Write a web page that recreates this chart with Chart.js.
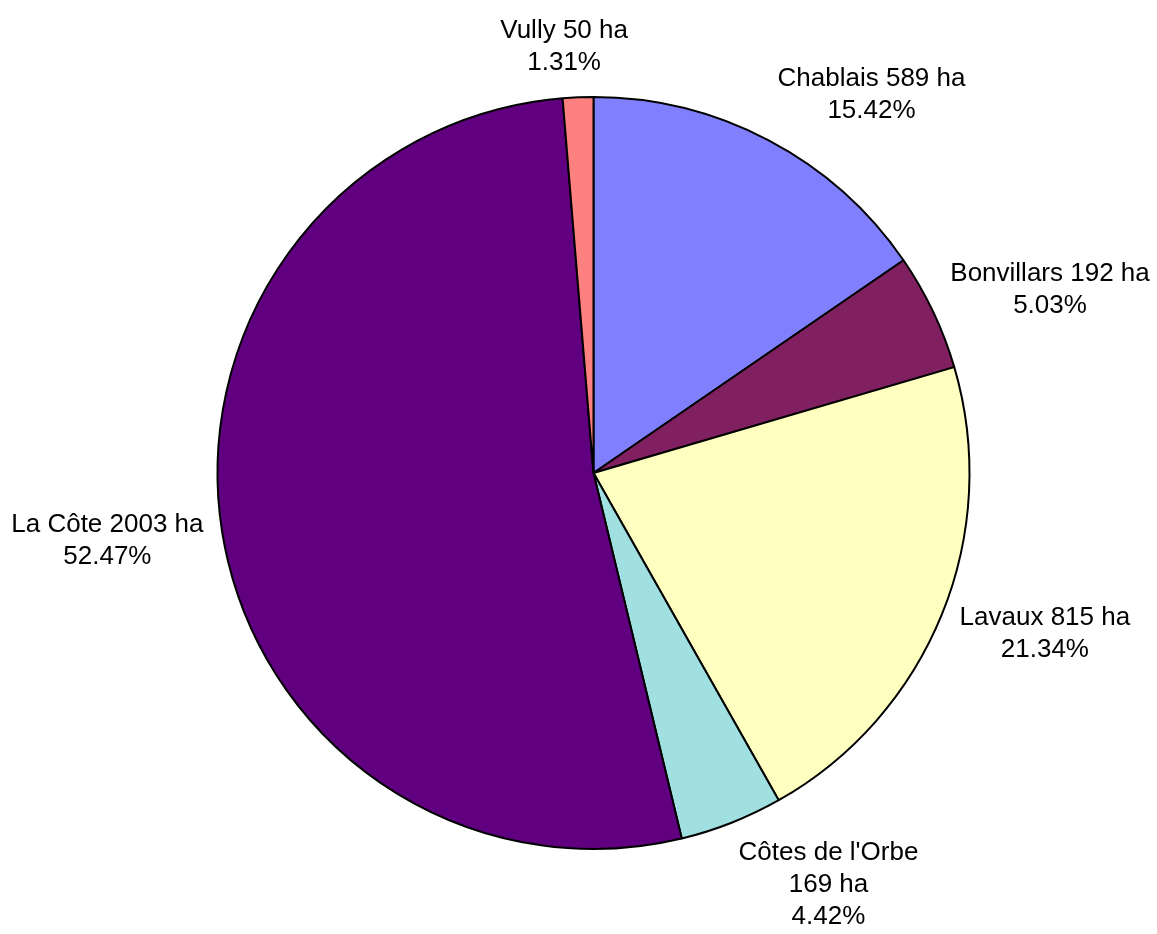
<!DOCTYPE html>
<html>
<head>
<meta charset="utf-8">
<script src="https://cdn.jsdelivr.net/npm/chart.js@4"></script>
<style>
  html, body { margin: 0; padding: 0; background: #fff; }
  canvas { display: block; }
</style>
</head>
<body>
<canvas id="c" width="1157" height="934" style="width:1157px;height:934px"></canvas>
<script>
// ---- data ----
const categories = ["Chablais", "Bonvillars", "Lavaux", "Côtes de l'Orbe", "La Côte", "Vully"];
const hectares   = [589, 192, 815, 169, 2003, 50];
const percentLabels = ["15.42%", "5.03%", "21.34%", "4.42%", "52.47%", "1.31%"];
const breakAfterName = [false, false, false, true, false, false];
const sliceColors = ["#8080ff", "#802060", "#ffffc0", "#a0e0e0", "#600080", "#ff8080"];

const labelLines = categories.map((name, i) => {
  const ha = hectares[i] + " ha";
  const first = breakAfterName[i] ? [name, ha] : [name + " " + ha];
  return first.concat([percentLabels[i]]);
});

const LINE_H = 32;
const FONT = '26px "Liberation Sans", Arial, sans-serif';

const outsideLabels = {
  id: 'outsideLabels',
  afterDatasetsDraw(chart) {
    const ctx = chart.ctx;
    const meta = chart.getDatasetMeta(0);
    ctx.save();
    ctx.font = FONT;
    ctx.fillStyle = '#000';
    ctx.textAlign = 'center';
    ctx.textBaseline = 'middle';
    meta.data.forEach((arc, i) => {
      const p = arc.getProps(['x', 'y', 'startAngle', 'endAngle', 'outerRadius'], true);
      const mid = (p.startAngle + p.endAngle) / 2;
      const c = Math.cos(mid), s = Math.sin(mid);
      const D = p.outerRadius + 19;
      const px = p.x + D * c, py = p.y + D * s;
      const lines = labelLines[i];
      const w = Math.max(...lines.map(l => ctx.measureText(l).width));
      const h = lines.length * LINE_H;
      const k = Math.max(-1, Math.min(1, 5 * c));
      const cx = px + k * w / 2;
      const cy = py + s * h / 2;
      lines.forEach((l, j) => {
        ctx.fillText(l, cx, cy + (j - (lines.length - 1) / 2) * LINE_H);
      });
    });
    ctx.restore();
  }
};

new Chart(document.getElementById('c'), {
  type: 'pie',
  data: {
    labels: categories,
    datasets: [{
      data: hectares,
      backgroundColor: sliceColors,
      borderColor: '#000000',
      borderWidth: 2
    }]
  },
  options: {
    responsive: false,
    animation: false,
    devicePixelRatio: 1,
    layout: { padding: { top: 96, bottom: 84, left: 100, right: 70 } },
    plugins: {
      legend: { display: false },
      tooltip: { enabled: false }
    }
  },
  plugins: [outsideLabels]
});
</script>
</body>
</html>
